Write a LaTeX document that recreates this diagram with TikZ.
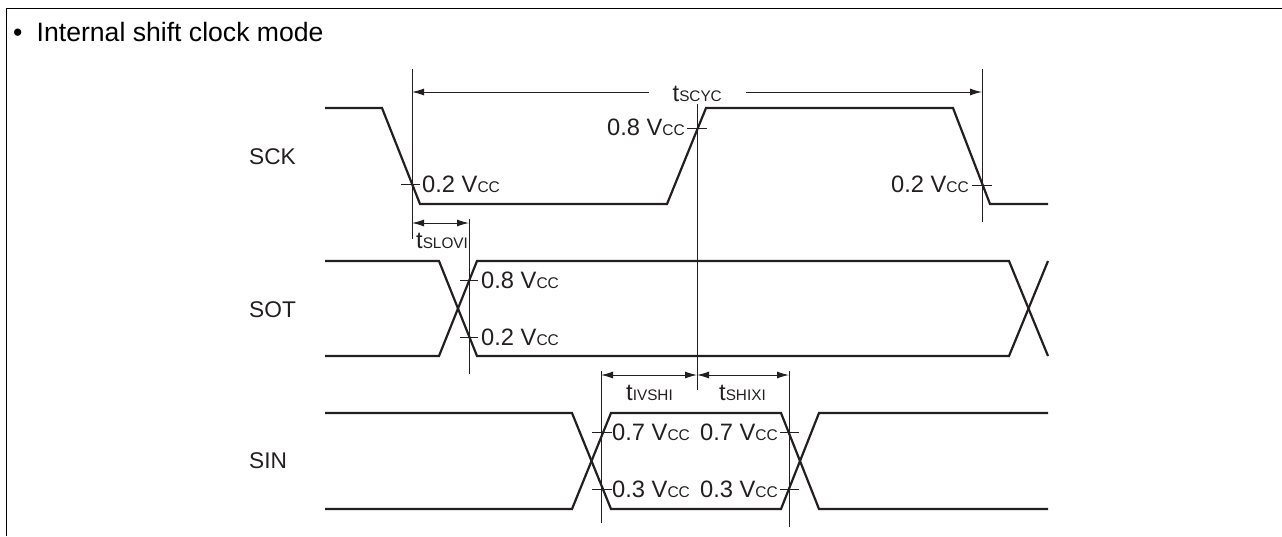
\documentclass[tikz,border=0pt]{standalone}
\usepackage{fontspec}
\setmainfont{Liberation Sans}
\usetikzlibrary{arrows.meta}
\definecolor{ink}{RGB}{35,31,32}
\newcommand{\vcc}[1]{\fontsize{23.7}{26}\selectfont #1~V{\fontsize{15.5}{18}\selectfont CC}}
\newcommand{\tlab}[1]{\fontsize{23.7}{26}\selectfont t{\fontsize{15.3}{18}\selectfont #1}}
\tikzset{
  sig/.style={draw=ink,line width=2.2pt,line join=miter},
  thin line/.style={draw=ink,line width=1pt},
  dim/.style={draw=ink,line width=1pt,{Latex[length=12pt,width=7pt]}-{Latex[length=12pt,width=7pt]}},
  dimr/.style={draw=ink,line width=1pt,-{Latex[length=12pt,width=7pt]}},
  lab/.style={inner sep=0pt,text=ink,anchor=base west},
  rlab/.style={inner sep=0pt,text=ink,anchor=base east},
  sname/.style={inner sep=0pt,text=ink,anchor=base west,font=\fontsize{22.7}{26}\selectfont},
  ttl/.style={inner sep=0pt,text=black,anchor=base west,font=\fontsize{26.6}{30}\selectfont},
}
\begin{document}
\begin{tikzpicture}[x=1pt,y=-1pt]
\useasboundingbox (0,0) rectangle (1282,536);
% frame
\draw[black,line width=1.2pt] (6.5,536) -- (6.5,8.5) -- (1282,8.5);
\node[ttl] (bullet) at (13,41.5) {•};
\node[ttl] (title) at (36.5,41.5) {Internal shift clock mode};
% signals
\draw[sig] (325,108) -- (382,108) -- (420,204) -- (667,204) -- (706,108) -- (953,108) -- (990,204) -- (1048,204);
\draw[sig] (325,261) -- (439,261) -- (477,356) -- (1009,356) -- (1048,261);
\draw[sig] (325,356) -- (439,356) -- (477,261) -- (1009,261) -- (1048,356);
\draw[sig] (325,413) -- (572,413) -- (611,509) -- (781,509) -- (819,413) -- (1048,413);
\draw[sig] (325,509) -- (572,509) -- (611,413) -- (781,413) -- (819,509) -- (1048,509);
% reference lines
\coordinate (a1) at (412,69); \coordinate (a2) at (412,239);
\coordinate (b1) at (982,69); \coordinate (b2) at (982,222);
\coordinate (c1) at (697,104); \coordinate (c2) at (697,390);
\coordinate (d1) at (469,219); \coordinate (d2) at (469,374);
\coordinate (e1) at (601,371); \coordinate (e2) at (601,523);
\coordinate (f1) at (789,371); \coordinate (f2) at (789,527);
\foreach \p/\q in {a1/a2,b1/b2,c1/c2,d1/d2,e1/e2,f1/f2} \draw[thin line] (\p) -- (\q);
% ticks
\foreach \xa/\xb/\yy in {401/420/184,972/992/185,687/707/128,460/478/280,460/478/337,592/612/432,592/612/489,780/799/432,780/799/489}
  \draw[thin line] (\xa,\yy) -- (\xb,\yy);
% dimension arrows
\node[lab] (tscyc) at (672.5,101) {\tlab{SCYC}};
\draw[dimr] (649,92) -- (412,92);
\draw[dimr] (746,92) -- (982,92);
\draw[dim] (412,223) -- (469,223);
\draw[dim] (601,375) -- (697,375);
\draw[dim] (697,375) -- (789,375);
\node[lab] (tslovi) at (416,248) {\tlab{SLOVI}};
\node[lab] (tivshi) at (626,400) {\tlab{IVSHI}};
\node[lab] (tshixi) at (719,400) {\tlab{SHIXI}};
% levels
\node[lab] at (422,192) {\vcc{0.2}};
\node[rlab] at (685,135) {\vcc{0.8}};
\node[rlab] at (969,192) {\vcc{0.2}};
\node[lab] at (481,288) {\vcc{0.8}};
\node[lab] at (481,345) {\vcc{0.2}};
\node[lab] at (612,440) {\vcc{0.7}};
\node[lab] at (612,497) {\vcc{0.3}};
\node[rlab] at (778,440) {\vcc{0.7}};
\node[rlab] at (778,497) {\vcc{0.3}};
% names
\node[sname] at (249,164) {SCK};
\node[sname] at (249,317) {SOT};
\node[sname] at (249,468) {SIN};
\end{tikzpicture}
\end{document}
